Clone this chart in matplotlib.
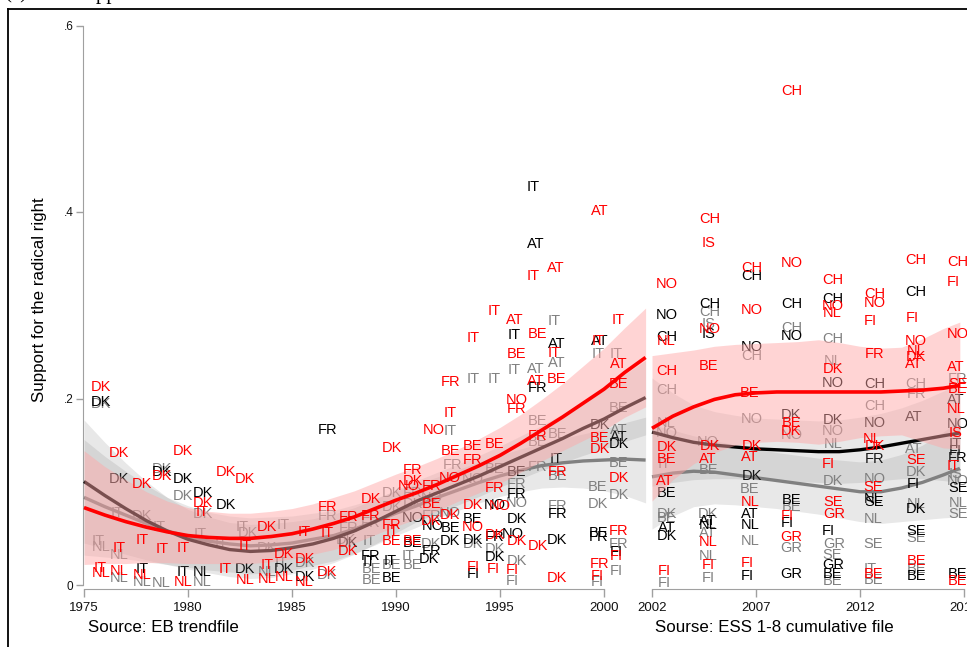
import matplotlib.pyplot as plt
import matplotlib.transforms as mtransforms
from matplotlib.lines import Line2D
import numpy as np

plt.rcParams['font.family'] = ['Liberation Sans', 'DejaVu Sans']

# Eurobarometer trend file: (country, survey year, share voting radical right)
eb_red = [
    ("DK", 1975.8, .214), ("IT", 1975.8, .020), ("NL", 1975.8, .014),
    ("DK", 1976.7, .143), ("IT", 1976.7, .041), ("NL", 1976.7, .016),
    ("DK", 1977.8, .110), ("IT", 1977.8, .050), ("NL", 1977.8, .012),
    ("DK", 1978.75, .118), ("IT", 1978.75, .040),
    ("DK", 1979.75, .145), ("IT", 1979.75, .041), ("NL", 1979.75, .005),
    ("DK", 1980.7, .089), ("IT", 1980.7, .080),
    ("DK", 1981.8, .122), ("IT", 1981.8, .019),
    ("DK", 1982.75, .115), ("IT", 1982.75, .043), ("NL", 1982.75, .007),
    ("DK", 1983.8, .064), ("IT", 1983.8, .023), ("NL", 1983.8, .008),
    ("DK", 1984.6, .035), ("NL", 1984.6, .010),
    ("IT", 1985.6, .058), ("DK", 1985.6, .029), ("NL", 1985.6, .005),
    ("FR", 1986.7, .085), ("IT", 1986.7, .057), ("DK", 1986.7, .015),
    ("FR", 1987.7, .074), ("DK", 1987.7, .038),
    ("DK", 1988.8, .093), ("FR", 1988.8, .075),
    ("DK", 1989.8, .148), ("FR", 1989.8, .066), ("IT", 1989.8, .059), ("BE", 1989.8, .048),
    ("FR", 1990.8, .125), ("DK", 1990.8, .113), ("NO", 1990.6, .108), ("BE", 1990.8, .048),
    ("NO", 1991.8, .168), ("FR", 1991.7, .108), ("BE", 1991.7, .088), ("DK", 1991.7, .070),
    ("FR", 1992.6, .219), ("IT", 1992.6, .186), ("BE", 1992.6, .145), ("NO", 1992.6, .116),
    ("DK", 1992.6, .076),
    ("IT", 1993.7, .266), ("BE", 1993.7, .150), ("FR", 1993.7, .135), ("DK", 1993.7, .087),
    ("NO", 1993.7, .063), ("FI", 1993.7, .021),
    ("IT", 1994.7, .295), ("BE", 1994.75, .152), ("FR", 1994.75, .105), ("NO", 1995.0, .086),
    ("DK", 1994.75, .055), ("FI", 1994.7, .019),
    ("AT", 1995.7, .285), ("BE", 1995.8, .249), ("NO", 1995.8, .200), ("FR", 1995.8, .190),
    ("DK", 1995.8, .048), ("FI", 1995.6, .017),
    ("IT", 1996.6, .333), ("BE", 1996.8, .270), ("AT", 1996.7, .220), ("FR", 1996.8, .161),
    ("DK", 1996.8, .043),
    ("AT", 1997.7, .341), ("IT", 1997.6, .250), ("BE", 1997.7, .222), ("FR", 1997.75, .123),
    ("DK", 1997.75, .009),
    ("AT", 1999.8, .402), ("IT", 1999.7, .263), ("BE", 1999.8, .159), ("DK", 1999.8, .147),
    ("FR", 1999.8, .024), ("FI", 1999.7, .011),
    ("IT", 2000.7, .285), ("AT", 2000.7, .238), ("BE", 2000.7, .217), ("DK", 2000.7, .116),
    ("FR", 2000.7, .059), ("FI", 2000.6, .032),
]

eb_black = [
    ("DK", 1975.8, .198), ("DK", 1976.7, .115), ("IT", 1977.8, .018),
    ("DK", 1978.75, .123), ("DK", 1979.75, .115), ("IT", 1979.75, .015),
    ("DK", 1980.7, .100), ("NL", 1980.7, .015), ("DK", 1981.8, .087),
    ("DK", 1982.75, .018), ("DK", 1984.6, .018), ("DK", 1985.6, .010),
    ("FR", 1986.7, .168), ("DK", 1987.7, .046),
    ("FR", 1988.8, .032), ("IT", 1988.7, .026),
    ("IT", 1989.7, .027), ("BE", 1989.8, .009),
    ("NO", 1990.8, .073), ("BE", 1990.8, .046),
    ("NO", 1991.75, .065), ("FR", 1991.7, .038), ("DK", 1991.6, .029),
    ("BE", 1992.6, .062), ("DK", 1992.6, .048),
    ("BE", 1993.7, .072), ("DK", 1993.7, .050), ("FI", 1993.7, .013),
    ("NO", 1994.75, .087), ("FR", 1994.75, .053), ("DK", 1994.75, .031),
    ("IT", 1995.7, .269), ("BE", 1995.8, .123), ("FR", 1995.8, .099), ("DK", 1995.8, .072),
    ("NO", 1995.6, .056),
    ("IT", 1996.6, .428), ("AT", 1996.7, .367), ("FR", 1996.8, .213),
    ("AT", 1997.75, .260), ("IT", 1997.7, .136), ("FR", 1997.75, .077), ("DK", 1997.75, .050),
    ("AT", 1999.8, .263), ("DK", 1999.8, .173), ("BE", 1999.75, .057), ("FR", 1999.75, .053),
    ("AT", 2000.7, .160), ("DK", 2000.7, .152), ("FI", 2000.6, .037),
]

eb_grey = [
    ("DK", 1975.8, .195), ("IT", 1975.7, .048), ("NL", 1975.8, .042),
    ("IT", 1976.6, .078), ("NL", 1976.7, .034), ("NL", 1976.7, .009),
    ("DK", 1977.8, .075), ("NL", 1977.8, .005),
    ("DK", 1978.75, .126), ("IT", 1978.6, .064), ("NL", 1978.7, .003),
    ("DK", 1979.75, .097),
    ("DK", 1980.7, .077), ("IT", 1980.6, .056), ("NL", 1980.7, .005),
    ("IT", 1981.6, .045),
    ("IT", 1982.6, .064), ("DK", 1982.9, .057),
    ("DK", 1983.8, .041), ("NL", 1983.8, .015),
    ("IT", 1984.6, .066), ("IT", 1984.5, .025),
    ("DK", 1985.6, .025),
    ("FR", 1986.7, .075), ("DK", 1986.7, .012),
    ("FR", 1987.7, .062), ("DK", 1987.6, .050),
    ("FR", 1988.8, .068), ("IT", 1988.7, .048), ("BE", 1988.8, .018), ("BE", 1988.8, .007),
    ("DK", 1989.8, .100), ("DK", 1989.8, .085), ("BE", 1989.8, .023),
    ("FR", 1990.8, .100), ("DK", 1990.8, .088), ("IT", 1990.6, .032), ("BE", 1990.8, .023),
    ("NO", 1991.7, .095), ("FR", 1991.7, .075), ("DK", 1991.7, .045),
    ("IT", 1992.6, .166), ("FR", 1992.7, .130), ("NO", 1992.6, .078),
    ("IT", 1993.7, .222), ("NO", 1993.7, .115), ("DK", 1993.7, .045),
    ("IT", 1994.7, .222), ("BE", 1994.75, .126), ("DK", 1994.75, .040),
    ("IT", 1995.7, .232), ("FR", 1995.8, .110), ("NO", 1995.8, .089), ("DK", 1995.8, .027),
    ("FI", 1995.6, .006),
    ("AT", 1996.7, .233), ("BE", 1996.8, .177), ("BE", 1996.8, .155), ("FR", 1996.8, .128),
    ("IT", 1997.6, .284), ("AT", 1997.75, .239), ("BE", 1997.75, .163), ("BE", 1997.75, .118),
    ("FR", 1997.75, .086),
    ("IT", 1999.7, .249), ("BE", 1999.7, .106), ("DK", 1999.7, .088), ("FI", 1999.7, .004),
    ("IT", 2000.6, .249), ("BE", 2000.7, .191), ("AT", 2000.7, .168), ("BE", 2000.7, .132),
    ("DK", 2000.7, .098), ("FR", 2000.7, .045), ("FI", 2000.6, .016),
]

# European Social Survey rounds 1-8
ess_red = [
    ("NO", 2002.7, .324), ("NL", 2002.7, .263), ("CH", 2002.7, .231), ("DK", 2002.7, .149),
    ("BE", 2002.7, .136), ("AT", 2002.6, .113), ("FI", 2002.6, .016),
    ("CH", 2004.8, .394), ("IS", 2004.7, .368), ("NO", 2004.8, .276), ("BE", 2004.7, .236),
    ("DK", 2004.8, .150), ("AT", 2004.7, .136), ("NL", 2004.7, .047), ("FI", 2004.7, .023),
    ("CH", 2006.8, .341), ("NO", 2006.8, .296), ("BE", 2006.7, .207), ("DK", 2006.8, .150),
    ("AT", 2006.7, .139), ("NL", 2006.7, .090), ("FI", 2006.6, .025),
    ("CH", 2008.7, .531), ("NO", 2008.7, .347), ("BE", 2008.7, .175), ("DK", 2008.7, .166),
    ("FI", 2008.5, .075), ("GR", 2008.7, .053),
    ("CH", 2010.7, .328), ("NO", 2010.7, .301), ("NL", 2010.65, .293), ("DK", 2010.7, .233),
    ("FI", 2010.5, .131), ("SE", 2010.7, .090), ("GR", 2010.75, .077),
    ("CH", 2012.7, .313), ("NO", 2012.7, .304), ("FI", 2012.5, .284), ("FR", 2012.7, .249),
    ("NL", 2012.6, .158), ("DK", 2012.7, .150), ("SE", 2012.65, .106), ("BE", 2012.65, .013),
    ("CH", 2014.7, .350), ("FI", 2014.5, .288), ("NO", 2014.7, .263), ("NL", 2014.7, .252),
    ("DK", 2014.7, .246), ("AT", 2014.6, .238), ("SE", 2014.7, .135), ("BE", 2014.7, .027),
    ("CH", 2016.7, .348), ("FI", 2016.5, .326), ("NO", 2016.7, .270), ("AT", 2016.6, .235),
    ("SE", 2016.7, .217), ("BE", 2016.7, .211), ("NL", 2016.6, .190), ("IS", 2016.6, .164),
    ("IT", 2016.5, .129), ("BE", 2016.7, .006),
]

ess_black = [
    ("NO", 2002.7, .291), ("CH", 2002.7, .267), ("BE", 2002.7, .100), ("AT", 2002.7, .062),
    ("DK", 2002.7, .054),
    ("CH", 2004.8, .303), ("IS", 2004.7, .270), ("AT", 2004.7, .070), ("NL", 2004.7, .066),
    ("CH", 2006.8, .333), ("NO", 2006.8, .257), ("DK", 2006.8, .118), ("AT", 2006.7, .077),
    ("NL", 2006.7, .066), ("FI", 2006.6, .011),
    ("CH", 2008.7, .303), ("NO", 2008.7, .268), ("DK", 2008.7, .184), ("BE", 2008.7, .092),
    ("FI", 2008.5, .068), ("GR", 2008.7, .013),
    ("CH", 2010.7, .308), ("NO", 2010.7, .218), ("DK", 2010.7, .178), ("FI", 2010.5, .059),
    ("GR", 2010.7, .023), ("BE", 2010.7, .013),
    ("CH", 2012.7, .217), ("NO", 2012.7, .175), ("FR", 2012.7, .136), ("NL", 2012.65, .094),
    ("SE", 2012.7, .090),
    ("CH", 2014.7, .316), ("AT", 2014.6, .182), ("FI", 2014.55, .110), ("DK", 2014.7, .083),
    ("SE", 2014.7, .059), ("BE", 2014.7, .011),
    ("AT", 2016.6, .200), ("NO", 2016.7, .174), ("IT", 2016.6, .153), ("FI", 2016.6, .145),
    ("FR", 2016.7, .137), ("SE", 2016.7, .105), ("BE", 2016.7, .013),
]

ess_grey = [
    ("CH", 2002.7, .210), ("NL", 2002.7, .175), ("NO", 2002.7, .164), ("IT", 2002.6, .131),
    ("DK", 2002.7, .077), ("BE", 2002.7, .073), ("FI", 2002.6, .003),
    ("CH", 2004.8, .294), ("IS", 2004.7, .281), ("NO", 2004.7, .155), ("BE", 2004.7, .125),
    ("DK", 2004.7, .077), ("AT", 2004.7, .057), ("NL", 2004.7, .032), ("FI", 2004.7, .009),
    ("CH", 2006.8, .247), ("NO", 2006.8, .179), ("BE", 2006.7, .104), ("NL", 2006.7, .049),
    ("CH", 2008.7, .277), ("NO", 2008.7, .162), ("BE", 2008.7, .085), ("GR", 2008.7, .041),
    ("CH", 2010.7, .265), ("NL", 2010.7, .241), ("NO", 2010.7, .166), ("NL", 2010.7, .153),
    ("DK", 2010.7, .113), ("GR", 2010.75, .045), ("SE", 2010.65, .034), ("BE", 2010.7, .006),
    ("CH", 2012.7, .193), ("NO", 2012.7, .115), ("NL", 2012.65, .072), ("SE", 2012.65, .045),
    ("IT", 2012.5, .018), ("BE", 2012.65, .007),
    ("CH", 2014.7, .217), ("FR", 2014.7, .206), ("AT", 2014.6, .147), ("DK", 2014.7, .123),
    ("NL", 2014.7, .088), ("SE", 2014.7, .052), ("BE", 2014.7, .018),
    ("FR", 2016.7, .222), ("IS", 2016.6, .120), ("NO", 2016.7, .113), ("NL", 2016.7, .089),
    ("SE", 2016.7, .077),
]

# smoothed trends with confidence bands (fit value and half-width)
eb_fit_x = np.arange(1975, 2003)
eb_red_fit = [.083, .075, .068, .062, .057, .053, .051, .050, .050, .052, .055, .060, .066, .073,
              .082, .091, .099, .108, .118, .128, .139, .152, .166, .180, .195, .210, .228, .244]
eb_red_ci = [.061, .052, .045, .038, .033, .030, .028, .027, .027, .027, .027, .027, .028, .028,
             .028, .028, .028, .028, .028, .029, .030, .031, .033, .036, .040, .044, .048, .053]
eb_black_fit = [.111, .096, .082, .069, .058, .049, .043, .038, .036, .037, .040, .044, .050, .058,
                .068, .079, .090, .099, .108, .117, .127, .137, .147, .157, .168, .178, .190, .201]
eb_black_ci = [.066, .057, .049, .042, .036, .032, .030, .029, .029, .029, .028, .027, .026, .025,
               .024, .023, .022, .022, .022, .022, .022, .023, .024, .026, .029, .032, .036, .040]
eb_grey_fit = [.094, .084, .075, .066, .058, .052, .047, .044, .042, .043, .045, .049, .053, .060,
               .068, .077, .085, .094, .102, .110, .117, .123, .128, .131, .133, .134, .135, .134]
eb_grey_ci = [.062, .054, .047, .041, .036, .033, .031, .030, .030, .030, .029, .028, .027, .026,
              .025, .024, .023, .022, .022, .022, .022, .023, .024, .026, .029, .033, .039, .046]

ess_fit_x = [2002, 2003, 2004, 2005, 2006, 2007, 2008, 2009, 2010, 2011, 2012, 2013, 2014, 2015,
             2016, 2016.8]
ess_red_fit = [.168, .181, .191, .199, .204, .206, .207, .207, .207, .207, .207, .207, .208, .209,
               .211, .214]
ess_red_ci = [.078, .068, .061, .057, .054, .053, .053, .054, .056, .053, .049, .047, .047, .055,
              .064, .068]
ess_black_fit = [.164, .158, .153, .150, .148, .146, .145, .144, .143, .143, .145, .148, .152, .156,
                 .160, .163]
ess_black_ci = [.058, .048, .040, .036, .034, .033, .033, .033, .033, .034, .035, .036, .038, .042,
                .048, .053]
ess_grey_fit = [.116, .120, .122, .121, .118, .115, .112, .109, .106, .103, .100, .100, .104, .110,
                .118, .125]
ess_grey_ci = [.056, .046, .038, .034, .032, .031, .030, .030, .030, .031, .032, .034, .036, .040,
               .046, .052]

RED = '#ff0000'
GREY = '#808080'
AXIS = '#a0a0a0'
PINK = (1.0, 0.655, 0.655)
LBL = 10.5

W, H = 967, 647
fig = plt.figure(figsize=(W / 100, H / 100), dpi=100)

def box(x0, x1, y0=25.5, y1=588.5):
    return [x0 / W, 1 - y1 / H, (x1 - x0) / W, (y1 - y0) / H]

ax1 = fig.add_axes(box(83, 649))
ax2 = fig.add_axes(box(650, 990))
ax1.set_xlim(1975 - 1 / 20.8, 1975 - 1 / 20.8 + 566 / 20.8)
ax2.set_xlim(2002 - 2 / 20.8, 2002 - 2 / 20.8 + 340 / 20.8)


def draw_labels(ax, rows, color, z):
    trans = mtransforms.offset_copy(ax.transData, fig=fig, y=-0.716 * LBL / 2, units='points')
    for cc, x, y in rows:
        ax.text(x, y, cc, color=color, fontsize=LBL, ha='center', va='baseline',
                transform=trans, zorder=z, clip_on=False)


def draw_panel(ax, fx, grey, black, red, lab_grey, lab_black, lab_red):
    fx = np.asarray(fx)
    draw_labels(ax, lab_grey, GREY, 1)
    g, gc = np.array(grey[0]), np.array(grey[1])
    ax.fill_between(fx, g - gc, g + gc, color=GREY, alpha=0.18, lw=0, zorder=2)
    ax.plot(fx, g, color=GREY, lw=2.4, zorder=3, solid_capstyle='butt')
    draw_labels(ax, lab_black, 'black', 4)
    b, bc = np.array(black[0]), np.array(black[1])
    ax.fill_between(fx, b - bc, b + bc, color=GREY, alpha=0.18, lw=0, zorder=5)
    ax.plot(fx, b, color='black', lw=2.4, zorder=6, solid_capstyle='butt')
    r, rc = np.array(red[0]), np.array(red[1])
    ax.fill_between(fx, r - rc, r + rc, color=PINK, alpha=0.48, lw=0, zorder=7)
    draw_labels(ax, lab_red, RED, 8)
    ax.plot(fx, r, color=RED, lw=2.6, zorder=9, solid_capstyle='butt')


draw_panel(ax1, eb_fit_x, (eb_grey_fit, eb_grey_ci), (eb_black_fit, eb_black_ci),
           (eb_red_fit, eb_red_ci), eb_grey, eb_black, eb_red)
draw_panel(ax2, ess_fit_x, (ess_grey_fit, ess_grey_ci), (ess_black_fit, ess_black_ci),
           (ess_red_fit, ess_red_ci), ess_grey, ess_black, ess_red)

for ax in (ax1, ax2):
    ax.set_ylim(-3.5 / 932.5, 0.6)
    ax.patch.set_visible(False)
    for s in ('top', 'right'):
        ax.spines[s].set_visible(False)
    ax.spines['bottom'].set_color(AXIS)
    ax.spines['left'].set_color(AXIS)
    ax.tick_params(axis='both', colors=AXIS, labelcolor='#111111', length=6, width=1)
    ax.tick_params(axis='x', labelsize=9.5, pad=4)

ax1.set_xticks([1975, 1980, 1985, 1990, 1995, 2000])
ax1.spines['bottom'].set_bounds(1975, 2000)
ax1.set_yticks([0, .2, .4, .6])
ax1.set_yticklabels(['0', '.2', '.4', '.6'])
ax1.tick_params(axis='y', labelsize=8.5, length=5, pad=2)
ax1.spines['left'].set_bounds(0, 0.6)

ax2.set_xticks([2002, 2007, 2012, 2017])
ax2.spines['bottom'].set_bounds(2002, 2017)
ax2.spines['left'].set_visible(False)
ax2.set_yticks([])

fig.text(40 / W, 1 - 300 / H, 'Support for the radical right', rotation=90,
         ha='center', va='center', fontsize=12.2)
fig.text(88 / W, 1 - 627 / H, 'Source: EB trendfile', ha='left', va='center', fontsize=12.2)
fig.text(655 / W, 1 - 627 / H, 'Sourse: ESS 1-8 cumulative file', ha='left', va='center',
         fontsize=12.2)

# page frame and the caption line above it
fig.add_artist(Line2D([8 / W, 8 / W], [0, 1 - 9 / H], color='black', lw=1.3))
fig.add_artist(Line2D([8 / W, 1], [1 - 9 / H, 1 - 9 / H], color='black', lw=1.3))
fig.text(4 / W, 1 + 1.5 / H, '(a)', family='Liberation Serif', fontsize=15, va='baseline')
fig.text(75 / W, 1 + 1.5 / H, 'Support', family='Liberation Serif', fontsize=15, va='baseline')

fig.savefig('out.png', dpi=100)
